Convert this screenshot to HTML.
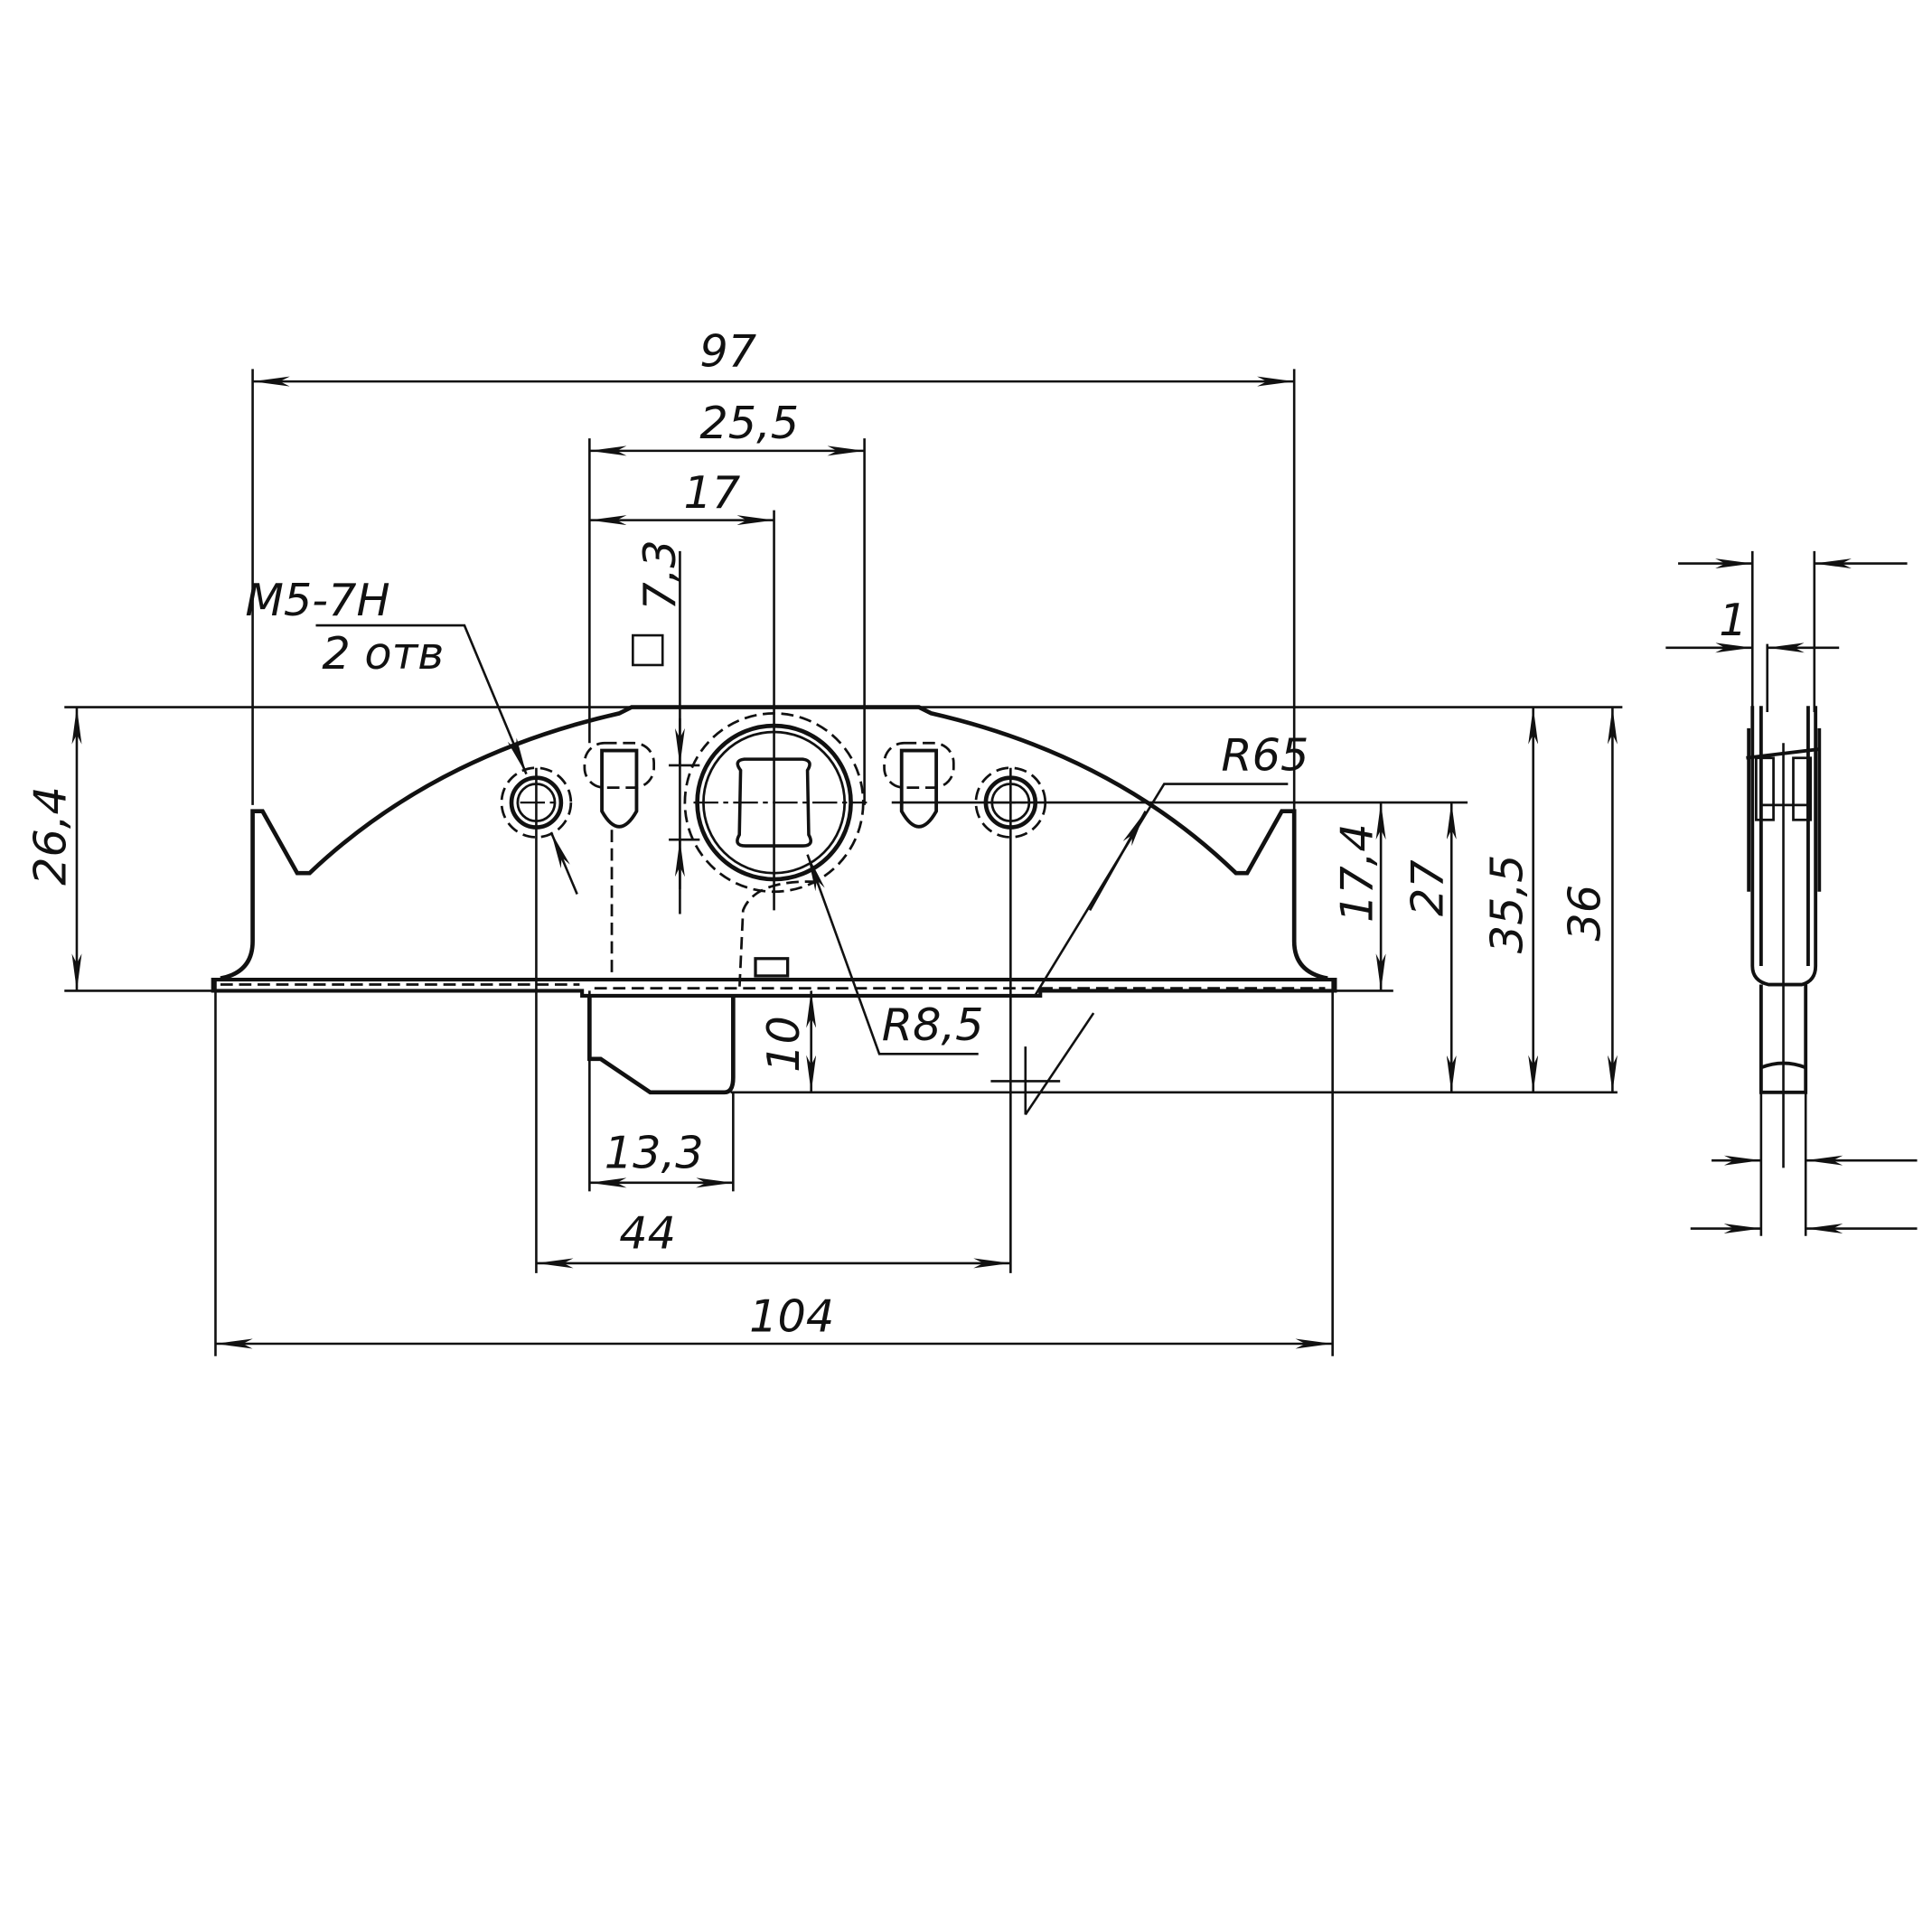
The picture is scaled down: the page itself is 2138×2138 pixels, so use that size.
<!DOCTYPE html>
<html><head><meta charset="utf-8"><style>
html,body{margin:0;padding:0;background:#fff}
svg{display:block}
text{font-family:"DejaVu Sans","Liberation Sans",sans-serif;font-style:italic;fill:#111;font-size:36px}
</style></head><body>
<svg width="2138" height="2138" viewBox="0 0 1560 1560" xmlns="http://www.w3.org/2000/svg">
<defs>
<marker id="a" viewBox="0 0 30 8" refX="30" refY="4" markerWidth="30" markerHeight="8" orient="auto-start-reverse" markerUnits="userSpaceOnUse"><path d="M0,0 L30,4 L0,8 L8,4Z" fill="#111"/></marker>
</defs>
<g stroke="#111" stroke-width="1.9" fill="none">
<line x1="204" y1="298" x2="204" y2="650"/>
<line x1="1045" y1="298" x2="1045" y2="655"/>
<line x1="476" y1="354" x2="476" y2="600"/>
<line x1="698" y1="354" x2="698" y2="650"/>
<line x1="625" y1="412" x2="625" y2="735"/>
<line x1="549" y1="445" x2="549" y2="738"/>
<line x1="52" y1="571" x2="1310" y2="571"/>
<line x1="52" y1="800" x2="172" y2="800"/>
<line x1="1078" y1="800" x2="1125" y2="800"/>
<line x1="590" y1="882" x2="1306" y2="882"/>
<line x1="720" y1="648" x2="1185" y2="648"/>
<line x1="540" y1="618" x2="565" y2="618"/>
<line x1="540" y1="678" x2="565" y2="678"/>
<line x1="433" y1="620" x2="433" y2="1028"/>
<line x1="816" y1="620" x2="816" y2="1028"/>
<line x1="476" y1="800" x2="476" y2="962"/>
<line x1="592" y1="882" x2="592" y2="962"/>
<line x1="174" y1="790" x2="174" y2="1095"/>
<line x1="1076" y1="790" x2="1076" y2="1095"/>
<line x1="204" y1="308" x2="1045" y2="308" marker-start="url(#a)" marker-end="url(#a)"/>
<line x1="476" y1="364" x2="698" y2="364" marker-start="url(#a)" marker-end="url(#a)"/>
<line x1="476" y1="420" x2="625" y2="420" marker-start="url(#a)" marker-end="url(#a)"/>
<line x1="549" y1="580" x2="549" y2="618" marker-end="url(#a)"/>
<line x1="549" y1="718" x2="549" y2="678" marker-end="url(#a)"/>
<line x1="62" y1="571" x2="62" y2="800" marker-start="url(#a)" marker-end="url(#a)"/>
<line x1="1115" y1="648" x2="1115" y2="800" marker-start="url(#a)" marker-end="url(#a)"/>
<line x1="1172" y1="648" x2="1172" y2="882" marker-start="url(#a)" marker-end="url(#a)"/>
<line x1="1238" y1="571" x2="1238" y2="882" marker-start="url(#a)" marker-end="url(#a)"/>
<line x1="1302" y1="571" x2="1302" y2="882" marker-start="url(#a)" marker-end="url(#a)"/>
<line x1="655" y1="800" x2="655" y2="882" marker-start="url(#a)" marker-end="url(#a)"/>
<line x1="476" y1="955" x2="592" y2="955" marker-start="url(#a)" marker-end="url(#a)"/>
<line x1="433" y1="1020" x2="816" y2="1020" marker-start="url(#a)" marker-end="url(#a)"/>
<line x1="174" y1="1085" x2="1076" y2="1085" marker-start="url(#a)" marker-end="url(#a)"/>
<polyline points="255,505 375,505 425,625" marker-end="url(#a)"/>
<line x1="466" y1="722" x2="445" y2="672" marker-end="url(#a)"/>
<polyline points="1040,633 940,633 835,805"/>
<line x1="880" y1="735" x2="925" y2="655" marker-end="url(#a)"/>
<line x1="883" y1="818" x2="828" y2="900"/>
<line x1="800" y1="873" x2="856" y2="873"/>
<line x1="828" y1="845" x2="828" y2="900"/>
<polyline points="790,851 710,851 652,690" marker-end="url(#a)"/>
<rect x="511" y="513" width="24" height="24"/>
</g>
<g stroke="#111" stroke-width="3.4" fill="none">
<path d="M178,790 Q204,785 204,760 L204,655 L212,655 L240,705 L250,705 Q350,610 500,576 L510,571 L742,571 L752,576 Q900,610 998,705 L1007,705 L1035,655 L1045,655 L1045,760 Q1045,785 1072,790"/>
<path d="M172,800 L172,791 L1078,791 L1078,800 L840,800 L840,804 L470,804 L470,800 Z" stroke-width="3"/>
<path d="M476,804 L476,855 L485,855 L525,882 L585,882 Q592,882 592,870 L592,804"/>
<rect x="610" y="774" width="26" height="14" stroke-width="2.4"/>
<circle cx="625" cy="648" r="62"/>
<circle cx="625" cy="648" r="57" stroke-width="2"/>
<path d="M598,622 Q592,614 601,613 L648,613 Q657,614 652,622 L653,674 Q658,683 648,683 L602,683 Q592,683 597,674 Z" stroke-width="2.6"/>
<circle cx="433" cy="648" r="20"/><circle cx="433" cy="648" r="15" stroke-width="2"/>
<circle cx="816" cy="648" r="20"/><circle cx="816" cy="648" r="15" stroke-width="2"/>
<path d="M486,606 L486,655 Q500,680 514,655 L514,606 Z" stroke-width="2.8"/>
<path d="M728,606 L728,655 Q742,680 756,655 L756,606 Z" stroke-width="2.8"/>
</g>
<g stroke="#111" stroke-width="2" fill="none" stroke-dasharray="10,5">
<circle cx="625" cy="648" r="72"/>
<circle cx="433" cy="648" r="28"/><circle cx="816" cy="648" r="28"/>
<rect x="472" y="600" width="56" height="36" rx="16"/>
<rect x="714" y="600" width="56" height="36" rx="16"/>
<path d="M660,712 Q610,710 600,735 L597,800"/>
<line x1="178" y1="795" x2="468" y2="795"/>
<line x1="494" y1="670" x2="494" y2="790"/>
<line x1="480" y1="798" x2="1070" y2="798"/>
</g>
<g stroke="#111" stroke-width="1.6" fill="none" stroke-dasharray="20,4,4,4">
<line x1="420" y1="648" x2="450" y2="648"/><line x1="800" y1="648" x2="832" y2="648"/>
<line x1="560" y1="648" x2="700" y2="648"/>
</g>
<g stroke="#111" stroke-width="1.9" fill="none">
<line x1="1415" y1="445" x2="1415" y2="575"/><line x1="1465" y1="445" x2="1465" y2="575"/>
<line x1="1427" y1="520" x2="1427" y2="575"/>
<line x1="1355" y1="455" x2="1415" y2="455" marker-end="url(#a)"/>
<line x1="1540" y1="455" x2="1465" y2="455" marker-end="url(#a)"/>
<line x1="1345" y1="523" x2="1415" y2="523" marker-end="url(#a)"/>
<line x1="1485" y1="523" x2="1427" y2="523" marker-end="url(#a)"/>
<line x1="1422" y1="880" x2="1422" y2="998"/><line x1="1458" y1="880" x2="1458" y2="998"/>
<line x1="1440" y1="600" x2="1440" y2="943"/>
<line x1="1382" y1="937" x2="1422" y2="937" marker-end="url(#a)"/>
<line x1="1548" y1="937" x2="1458" y2="937" marker-end="url(#a)"/>
<line x1="1365" y1="992" x2="1422" y2="992" marker-end="url(#a)"/>
<line x1="1548" y1="992" x2="1458" y2="992" marker-end="url(#a)"/>
</g>
<g stroke="#111" stroke-width="2.8" fill="none">
<path d="M1415,570 L1415,780 Q1415,792 1428,795 L1455,795 Q1466,792 1466,780 L1466,570"/>
<line x1="1422" y1="570" x2="1422" y2="780"/><line x1="1460" y1="570" x2="1460" y2="780"/>
<path d="M1422,795 L1422,882 L1458,882 L1458,795"/>
<path d="M1422,862 Q1440,855 1458,862"/>
<line x1="1412" y1="588" x2="1412" y2="720"/><line x1="1469" y1="588" x2="1469" y2="720"/>
<line x1="1410" y1="612" x2="1468" y2="605"/>
<rect x="1418" y="612" width="14" height="50" stroke-width="2"/>
<rect x="1448" y="612" width="14" height="50" stroke-width="2"/>
<line x1="1422" y1="650" x2="1460" y2="650" stroke-width="2"/>
</g>
<text x="565" y="296">97</text>
<text x="565" y="354">25,5</text>
<text x="552" y="410">17</text>
<text x="198" y="497">M5-7H</text>
<text x="260" y="540">2 отв</text>
<text transform="translate(545,493) rotate(-90)">7,3</text>
<text x="986" y="622">R65</text>
<text x="712" y="840">R8,5</text>
<text transform="translate(53,715) rotate(-90)">26,4</text>
<text transform="translate(1108,745) rotate(-90)">17,4</text>
<text transform="translate(1165,740) rotate(-90)">27</text>
<text transform="translate(1229,770) rotate(-90)">35,5</text>
<text transform="translate(1292,760) rotate(-90)">36</text>
<text transform="translate(645,866) rotate(-90)">10</text>
<text x="488" y="943">13,3</text>
<text x="500" y="1008">44</text>
<text x="605" y="1075">104</text>
<text x="1388" y="513">1</text>
</svg>
</body></html>
